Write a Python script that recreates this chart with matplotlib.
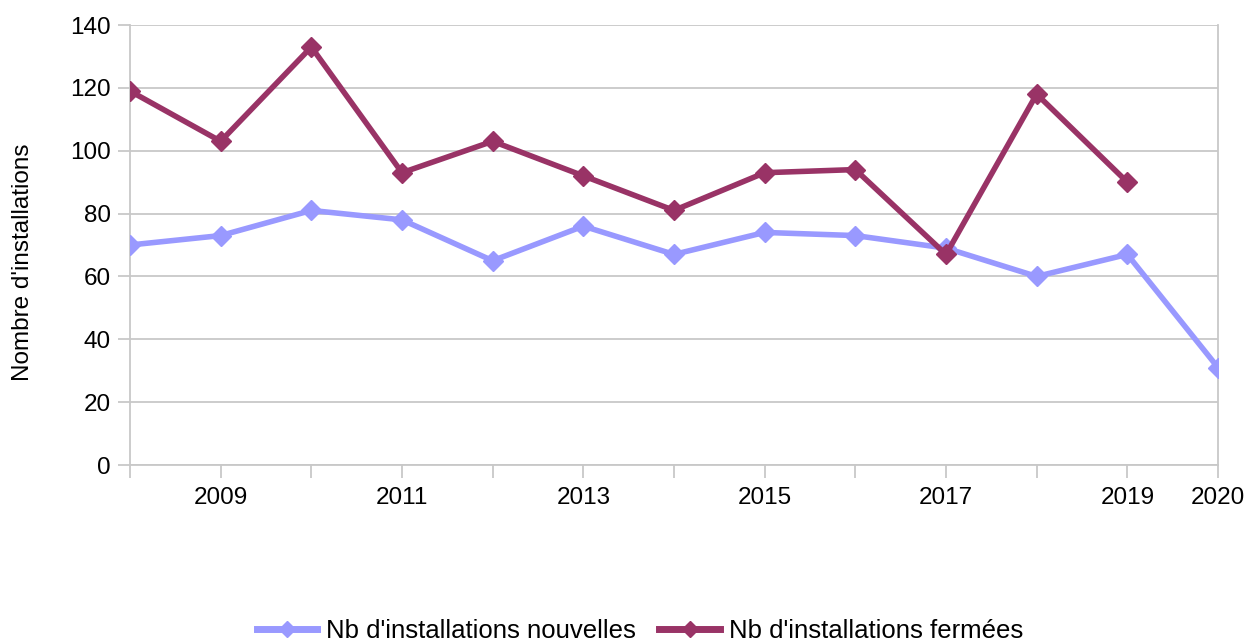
import matplotlib
matplotlib.use("Agg")
import matplotlib.pyplot as plt
import numpy as np
from matplotlib.lines import Line2D

plt.rcParams['font.family'] = ['Liberation Sans', 'DejaVu Sans']

years = [2008, 2009, 2010, 2011, 2012, 2013, 2014, 2015, 2016, 2017, 2018, 2019, 2020]
nouvelles = [70, 73, 81, 78, 65, 76, 67, 74, 73, 69, 60, 67, 31]
fermees = [119, 103, 133, 93, 103, 92, 81, 93, 94, 67, 118, 90, np.nan]
xtick_labels = ["2009", "2011", "2013", "2015", "2017", "2019", "2020"]
label_new = "Nb d'installations nouvelles"
label_closed = "Nb d'installations fermées"
ylabel = "Nombre d'installations"

c_new = "#9999ff"
c_closed = "#993366"
grid_c = "#c8c8c8"
FS = 17.5
LFS = 18.5

fig = plt.figure(figsize=(12.5, 6.44), dpi=100)
ax = fig.add_axes([130/1250, 1-465/644, (1218-130)/1250, (465-25)/644])

ax.plot(years, nouvelles, color=c_new, lw=4.0, marker='D', ms=10, mec=c_new, mfc=c_new, zorder=3)
ax.plot(years, fermees, color=c_closed, lw=4.0, marker='D', ms=10, mec=c_closed, mfc=c_closed, zorder=4)

ax.set_xlim(2008, 2020)
ax.set_ylim(0, 140)
ax.set_yticks(np.arange(0, 141, 20))
ax.set_xticks(years)
lab = [str(y) if str(y) in xtick_labels else "" for y in years]
ax.set_xticklabels(lab)
ax.grid(axis='y', color=grid_c, lw=1.3)
ax.set_axisbelow(True)
ax.spines['top'].set_visible(False)
for s in ['left', 'bottom', 'right']:
    ax.spines[s].set_color(grid_c)
    ax.spines[s].set_linewidth(1.3)
ax.tick_params(axis='both', colors=grid_c, labelcolor='black', labelsize=FS, width=1.3, length=9)
ax.tick_params(axis='x', pad=7)
ax.tick_params(axis='y', pad=5)

fig.text(23/1250, 1-262/644, ylabel, rotation=90, ha='center', va='center', fontsize=FS)

handles = [Line2D([], [], color=c_new, lw=5.0, marker='D', ms=8),
           Line2D([], [], color=c_closed, lw=5.0, marker='D', ms=8)]
fig.legend(handles, [label_new, label_closed], loc='center', bbox_to_anchor=(0.512, 1-631/644),
           ncol=2, frameon=False, fontsize=LFS, handlelength=2.35, columnspacing=0.9,
           handletextpad=0.35, borderpad=0, borderaxespad=0)

fig.savefig("out.png", dpi=100)
